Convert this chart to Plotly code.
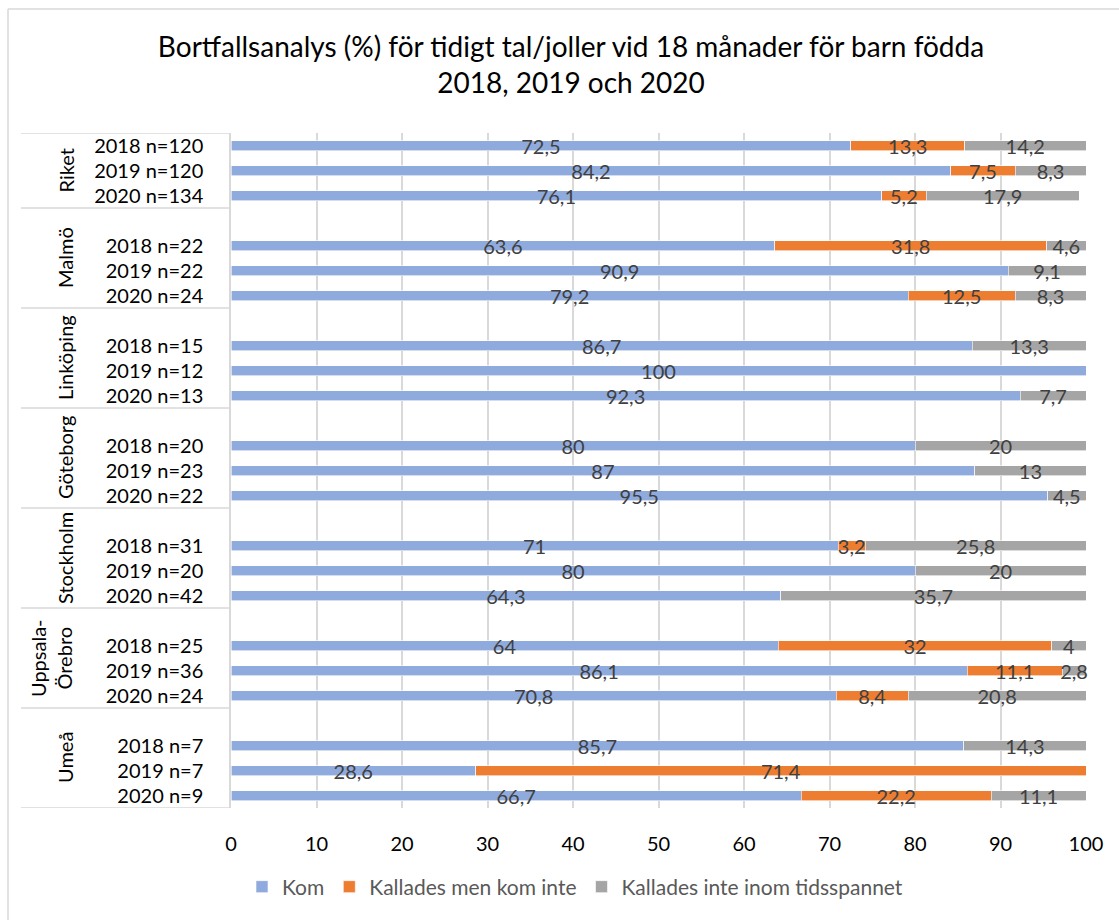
import plotly.graph_objects as go

# --- data -------------------------------------------------------------
groups = ["Riket", "Malmö", "Linköping", "Göteborg", "Stockholm",
          "Uppsala-<br>Örebro", "Umeå"]

row_labels = [
    ["2018 n=120", "2019 n=120", "2020 n=134"],
    ["2018 n=22", "2019 n=22", "2020 n=24"],
    ["2018 n=15", "2019 n=12", "2020 n=13"],
    ["2018 n=20", "2019 n=23", "2020 n=22"],
    ["2018 n=31", "2019 n=20", "2020 n=42"],
    ["2018 n=25", "2019 n=36", "2020 n=24"],
    ["2018 n=7", "2019 n=7", "2020 n=9"],
]

kom = [72.5, 84.2, 76.1,
       63.6, 90.9, 79.2,
       86.7, 100, 92.3,
       80, 87, 95.5,
       71, 80, 64.3,
       64, 86.1, 70.8,
       85.7, 28.6, 66.7]

kallades_men_kom_inte = [13.3, 7.5, 5.2,
                         31.8, None, 12.5,
                         None, None, None,
                         None, None, None,
                         3.2, None, None,
                         32, 11.1, 8.4,
                         None, 71.4, 22.2]

kallades_inte = [14.2, 8.3, 17.9,
                 4.6, 9.1, 8.3,
                 13.3, None, 7.7,
                 20, 13, 4.5,
                 25.8, 20, 35.7,
                 4, 2.8, 20.8,
                 14.3, None, 11.1]

series_names = ["Kom", "Kallades men kom inte", "Kallades inte inom tidsspannet"]
series_colors = ["#8FAADC", "#ED7D31", "#A5A5A5"]
x_ticks = [0, 10, 20, 30, 40, 50, 60, 70, 80, 90, 100]

# --- layout geometry --------------------------------------------------
W, H = 1119, 920
PL, PR, PT = 231, 1086, 133          # plot area in pixels
SLOT = 25                             # pixels per category slot
# first group has no leading blank slot, the others have one
group_starts, group_ends, ypos, ytext = [], [], [], []
cursor = 0
for g, labels in enumerate(row_labels):
    start = cursor
    if g > 0:
        cursor += 1
    for lab in labels:
        ypos.append(cursor + 0.5)
        ytext.append(lab)
        cursor += 1
    group_starts.append(start)
    group_ends.append(cursor)
n_slots = cursor
PB = PT + n_slots * SLOT


def px_x(px):
    return (px - PL) / (PR - PL)


def px_y(py):
    return (PB - py) / (PB - PT)


def fmt(v):
    if v is None:
        return ""
    s = f"{v:g}"
    return s.replace(".", ",")


FONT = "Lato, 'Open Sans', sans-serif"

fig = go.Figure()
for name, vals, col in zip(series_names,
                           [kom, kallades_men_kom_inte, kallades_inte],
                           series_colors):
    fig.add_trace(go.Bar(
        y=ypos, x=vals, orientation="h", name=name,
        marker=dict(color=col, line=dict(color="white", width=0.6)),
        width=0.4,
        text=[fmt(v) for v in vals],
        textposition="inside", insidetextanchor="middle",
        constraintext="none", textangle=0,
        textfont=dict(family=FONT, size=20, color="#404040"),
        cliponaxis=False,
        hoverinfo="x+name",
    ))

shapes = []
# category box: top, bottom and group separators
for yb in sorted(set([0, n_slots] + group_ends[:-1])):
    shapes.append(dict(type="line", xref="paper", yref="y",
                       x0=px_x(21), x1=0, y0=yb, y1=yb,
                       line=dict(color="#D9D9D9", width=1.5)))
# outer chart frame
shapes.append(dict(type="line", xref="paper", yref="paper",
                   x0=px_x(8), x1=px_x(W + 5), y0=px_y(9), y1=px_y(9),
                   line=dict(color="#D9D9D9", width=1.5)))
shapes.append(dict(type="line", xref="paper", yref="paper",
                   x0=px_x(8), x1=px_x(8), y0=px_y(9), y1=px_y(H + 5),
                   line=dict(color="#D9D9D9", width=1.5)))

annotations = []
for g, name in enumerate(groups):
    yc = (group_starts[g] + group_ends[g]) / 2
    two_line = "<br>" in name
    annotations.append(dict(
        text=name, xref="paper", yref="y",
        x=px_x(51 if two_line else 65), y=yc,
        xanchor="center", yanchor="middle",
        textangle=-90, showarrow=False,
        font=dict(family=FONT, size=20, color="#000000"),
    ))

fig.update_layout(
    width=W, height=H,
    margin=dict(l=PL, r=W - PR, t=PT, b=H - PB, pad=0),
    paper_bgcolor="white", plot_bgcolor="white",
    barmode="stack",
    title=dict(
        text="Bortfallsanalys (%) för tidigt tal/joller vid 18 månader för barn födda<br>2018, 2019 och 2020",
        x=571 / W, xref="container", xanchor="center",
        y=1 - 57 / H, yref="container", yanchor="middle",
        font=dict(family=FONT, size=28, color="#000000"),
    ),
    xaxis=dict(
        range=[0, 100], tickvals=x_ticks,
        showgrid=True, gridcolor="#D9D9D9", gridwidth=1.5,
        zeroline=False, showline=False,
        ticks="", ticklabelstandoff=22,
        tickfont=dict(family=FONT, size=20, color="#000000"),
        fixedrange=True,
    ),
    yaxis=dict(
        range=[n_slots, 0], tickvals=ypos, ticktext=ytext,
        showgrid=False, zeroline=False,
        showline=True, linecolor="#D9D9D9", linewidth=1.5,
        ticks="", ticklabelstandoff=22,
        tickfont=dict(family=FONT, size=20, color="#000000"),
        fixedrange=True,
    ),
    legend=dict(
        orientation="h", xref="container", yref="container",
        x=575 / W, xanchor="center", y=1 - 887 / H, yanchor="middle",
        font=dict(family=FONT, size=21, color="#595959"),
        traceorder="normal",
    ),
    shapes=shapes,
    annotations=annotations,
    showlegend=True,
)

fig.write_html("out.html")
